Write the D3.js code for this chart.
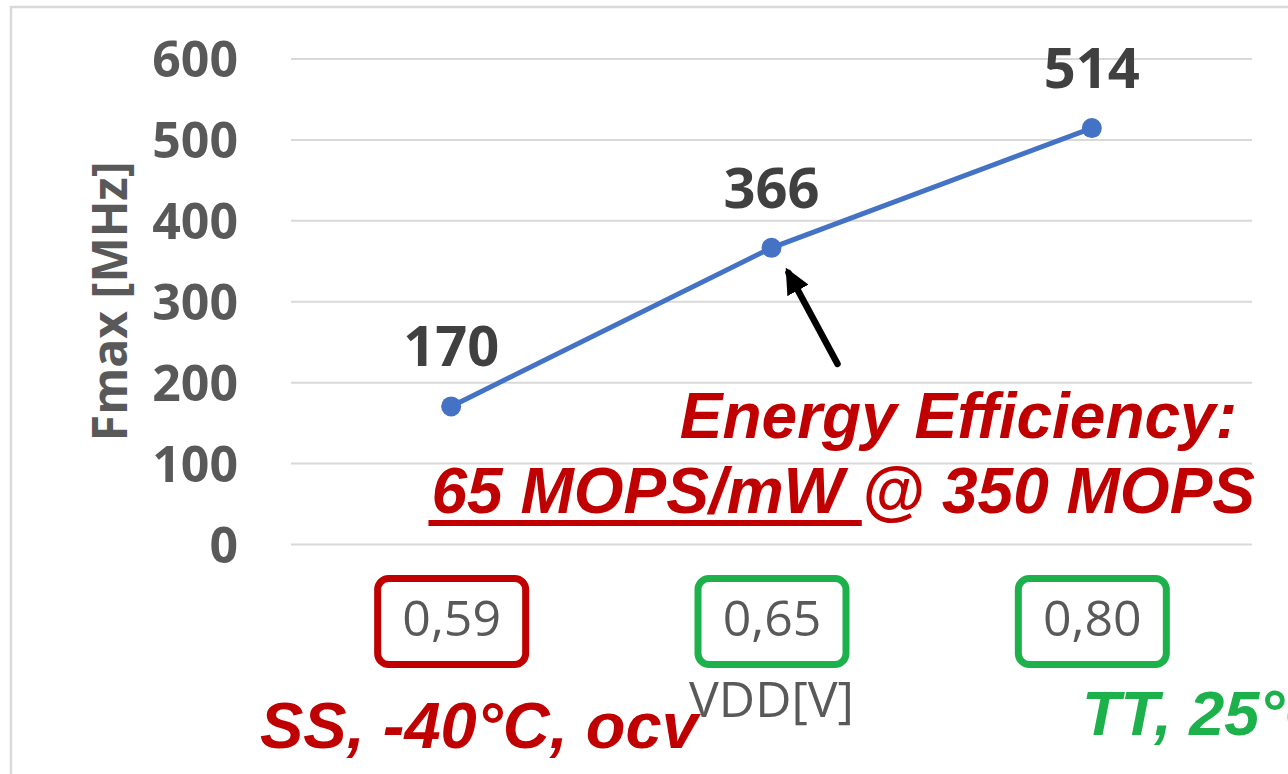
<!DOCTYPE html>
<html>
<head>
<meta charset="utf-8">
<script src="https://cdn.jsdelivr.net/npm/d3@7"></script>
<style>
  body { margin: 0; background: white; overflow: hidden; }
</style>
</head>
<body>
<div id="visualHolder"></div>
<script>
// Fmax vs VDD line chart
const vdd = ["0,59", "0,65", "0,80"]
const fmax = [170, 366, 514]
const yTicks = [0, 100, 200, 300, 400, 500, 600]
const cornerBad = ["0,59"]

const height = 774
const width = 1288

let plot = { left: 291, right: 1252, top: 58.5, bottom: 544 }

let red = "#C00000",
    green = "#1DB14B",
    lineColor = "#4472C4",
    tickColor = "#595959",
    labelColor = "#404040",
    grid = "#d9d9d9"

const calibriLike = "'Open Sans', sans-serif"
const arialLike = "'Liberation Sans', Arial, sans-serif"

const data = vdd.map((v, i) => ({ v: v, f: fmax[i] }))

const svgContainer = d3.select("#visualHolder")
    .append("svg")
    .attr("height", height)
    .attr("width", width)

// outer frame (runs off the right and bottom edges)
svgContainer.append("rect")
    .attr("x", 11)
    .attr("y", 7)
    .attr("width", 1400)
    .attr("height", 900)
    .attr("fill", "none")
    .attr("stroke", grid)
    .attr("stroke-width", 2.5)

let Xscale = d3.scalePoint()
    .domain(vdd)
    .range([plot.left, plot.right])
    .padding(0.5)

let Yscale = d3.scaleLinear()
    .domain([0, 600])
    .range([plot.bottom, plot.top])

// gridlines
let gridAxis = d3.axisLeft(Yscale)
    .tickValues(yTicks)
    .tickSize(-(plot.right - plot.left))
    .tickFormat("")

svgContainer.append("g").attr("id", "grid")
    .attr("transform", `translate(${plot.left},0)`)
    .call(gridAxis)
    .call(g => g.select(".domain").remove())
    .call(g => g.selectAll("line").attr("stroke", grid).attr("stroke-width", 2))

// y axis labels
let yAxis = d3.axisLeft(Yscale)
    .tickValues(yTicks)
    .tickSize(0)
    .tickPadding(53)

svgContainer.append("g").attr("id", "y-axis")
    .attr("transform", `translate(${plot.left},0)`)
    .call(yAxis)
    .call(g => g.select(".domain").remove())
    .call(g => g.selectAll("text")
        .attr("fill", tickColor)
        .style("font-family", calibriLike)
        .style("font-weight", "bold")
        .style("font-size", "50px")
        .attr("dy", "0.36em"))

svgContainer.append("text")
    .attr("transform", `translate(127,${(plot.top + plot.bottom) / 2}) rotate(-90)`)
    .attr("text-anchor", "middle")
    .attr("fill", tickColor)
    .style("font-family", calibriLike)
    .style("font-weight", "bold")
    .style("font-size", "48px")
    .text("Fmax [MHz]")

// x axis with boxed labels
let xAxis = d3.axisBottom(Xscale)
    .tickSize(0)
    .tickPadding(0)

const xAxisG = svgContainer.append("g").attr("id", "x-axis")
    .attr("transform", `translate(0,${plot.bottom})`)
    .call(xAxis)
    .call(g => g.select(".domain").remove())

xAxisG.selectAll(".tick")
    .insert("rect", "text")
    .attr("x", -74)
    .attr("y", 34.5)
    .attr("width", 148)
    .attr("height", 86)
    .attr("rx", 11)
    .attr("fill", "none")
    .attr("stroke", d => cornerBad.includes(d) ? red : green)
    .attr("stroke-width", 7)

xAxisG.selectAll("text")
    .attr("fill", tickColor)
    .attr("y", 92)
    .attr("dy", null)
    .style("font-family", calibriLike)
    .style("font-size", "50px")

svgContainer.append("text")
    .attr("x", (plot.left + plot.right) / 2)
    .attr("y", 717)
    .attr("text-anchor", "middle")
    .attr("fill", tickColor)
    .style("font-family", calibriLike)
    .style("font-size", "50px")
    .text("VDD[V]")

// series
let line = d3.line()
    .x(d => Xscale(d.v))
    .y(d => Yscale(d.f))

svgContainer.append("path")
    .datum(data)
    .attr("d", line)
    .attr("fill", "none")
    .attr("stroke", lineColor)
    .attr("stroke-width", 5)

svgContainer.selectAll(".dot")
    .data(data)
    .enter()
    .append("circle")
    .attr("class", "dot")
    .attr("cx", d => Xscale(d.v))
    .attr("cy", d => Yscale(d.f))
    .attr("r", 10)
    .attr("fill", lineColor)

svgContainer.selectAll(".value")
    .data(data)
    .enter()
    .append("text")
    .attr("class", "value")
    .attr("x", d => Xscale(d.v))
    .attr("y", d => Yscale(d.f) - 40)
    .attr("text-anchor", "middle")
    .attr("fill", labelColor)
    .style("font-family", calibriLike)
    .style("font-weight", "bold")
    .style("font-size", "56px")
    .text(d => d.f)

// annotation arrow pointing at the 0,65 point
svgContainer.append("defs")
    .append("marker")
    .attr("id", "head")
    .attr("markerUnits", "userSpaceOnUse")
    .attr("viewBox", "0 0 26 24")
    .attr("refX", 20)
    .attr("refY", 12)
    .attr("markerWidth", 26)
    .attr("markerHeight", 24)
    .attr("orient", "auto")
    .append("path")
    .attr("d", "M0,0 L26,12 L0,24 Z")
    .attr("fill", "black")

let tipX = Xscale("0,65") + 14,
    tipY = Yscale(366) + 20

svgContainer.append("line")
    .attr("x1", tipX + 52)
    .attr("y1", tipY + 96)
    .attr("x2", tipX + 3)
    .attr("y2", tipY + 5)
    .attr("stroke", "black")
    .attr("stroke-width", 6.5)
    .attr("stroke-linecap", "round")
    .attr("marker-end", "url(#head)")

// red / green annotations
const note = svgContainer.append("g")
    .attr("fill", red)
    .style("font-family", arialLike)
    .style("font-weight", "bold")
    .style("font-style", "italic")

note.append("text")
    .attr("x", 1237)
    .attr("y", 438)
    .attr("text-anchor", "end")
    .style("font-size", "64px")
    .text("Energy Efficiency:")

const eff = note.append("text")
    .attr("x", 1255)
    .attr("y", 513)
    .attr("text-anchor", "end")
    .style("font-size", "64px")

eff.append("tspan")
    .text("65 MOPS/mW ")
eff.append("tspan")
    .text("@ 350 MOPS")

// thick underline under the first part
let u0 = eff.node().getStartPositionOfChar(0).x,
    u1 = eff.node().getEndPositionOfChar(10).x
note.append("rect")
    .attr("x", u0 - 3)
    .attr("y", 520)
    .attr("width", u1 - u0 + 3)
    .attr("height", 6)

note.append("text")
    .attr("x", 260)
    .attr("y", 748)
    .style("font-size", "65px")
    .text("SS, -40°C, ocv")

note.append("text")
    .attr("x", 1082)
    .attr("y", 735)
    .attr("fill", green)
    .style("font-size", "63px")
    .text("TT, 25°C")
</script>
</body>
</html>
